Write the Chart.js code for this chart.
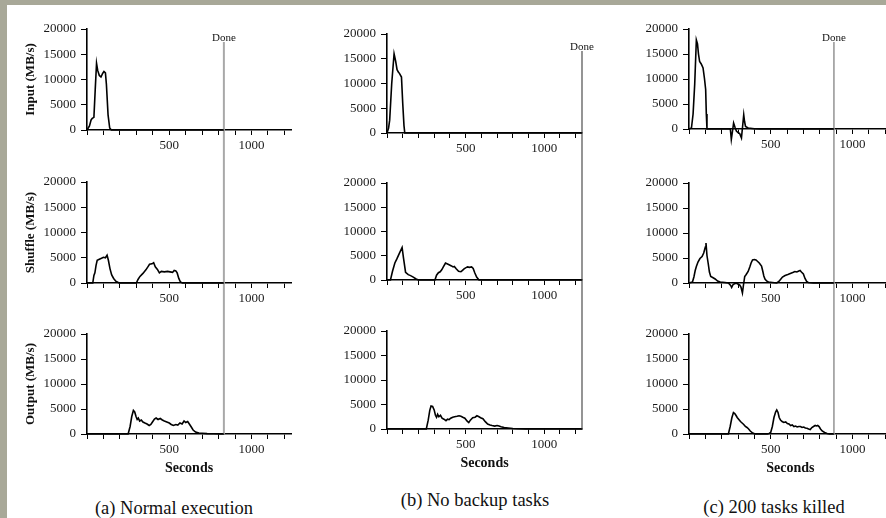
<!DOCTYPE html>
<html>
<head>
<meta charset="utf-8">
<script src="https://cdn.jsdelivr.net/npm/chart.js@4.4.0/dist/chart.umd.min.js"></script>
<style>
  html, body { margin: 0; padding: 0; }
  body { width: 886px; height: 518px; overflow: hidden; position: relative; background: #fff; }
  .frame-left { position: absolute; left: 0; top: 0; width: 7px; height: 518px; background: #a8a898; }
  .frame-top { position: absolute; left: 0; top: 0; width: 886px; height: 5px; background: #a8a898; }
  canvas { position: absolute; }
  .caption { position: absolute; font-family: "Liberation Serif", "DejaVu Serif", serif; font-size: 18.5px;
             white-space: nowrap; color: #111; transform: translate(-50%, -50%); }
</style>
</head>
<body>
<div class="frame-left"></div>
<div class="frame-top"></div>
<script>
// ---- data: [seconds, MB/s] ----
const inputA = [[0,0],[15,800],[25,2000],[32,2300],[42,2500],[50,8000],[58,13200],[65,11800],[75,10800],[85,10500],[95,11200],[103,11600],[112,11300],[118,9000],[128,3000],[138,400],[148,0],[832,0]];
const shuffleA = [[0,0],[35,0],[42,1500],[48,2000],[55,3500],[62,4500],[75,4700],[88,4900],[100,5100],[112,5000],[122,5500],[130,4500],[140,2800],[150,1600],[162,900],[175,350],[195,0],[300,0],[310,700],[322,1300],[340,1900],[358,2600],[372,3300],[380,3700],[395,3800],[405,4000],[415,3200],[428,2700],[440,2000],[452,2300],[470,2200],[490,2300],[505,2200],[520,2100],[530,2500],[540,2400],[548,2000],[558,900],[568,200],[580,0],[832,0]];
const outputA = [[0,0],[250,0],[262,1500],[272,3500],[282,4700],[290,4400],[298,3500],[305,2900],[312,3200],[320,2600],[330,2800],[340,2400],[352,2200],[365,2000],[378,1700],[388,1900],[398,2400],[410,3000],[420,3200],[432,2900],[445,3100],[458,2800],[470,2600],[485,2400],[500,2200],[512,1900],[525,1700],[540,1900],[552,1800],[565,2200],[578,2000],[590,2600],[600,2300],[612,2500],[622,2000],[632,1500],[645,800],[660,400],[680,200],[700,150],[730,80],[770,50],[810,0],[832,0]];

const inputB = [[0,0],[10,1000],[17,2600],[30,10000],[45,16000],[55,14500],[64,12800],[72,12300],[80,12000],[92,11300],[100,6000],[108,1500],[113,0],[1240,0]];
const shuffleB = [[0,0],[22,0],[35,1800],[50,3500],[62,4300],[80,5600],[96,6700],[105,4500],[118,1600],[135,1100],[150,900],[167,600],[185,200],[200,0],[305,0],[315,1000],[327,1500],[338,1700],[348,2100],[360,2800],[372,3500],[385,3300],[398,3100],[410,2900],[420,2700],[428,2800],[440,2300],[455,1800],[470,1700],[480,2000],[490,2300],[500,2500],[512,2700],[524,2600],[538,2700],[548,2400],[558,1500],[570,600],[585,0],[1240,0]];
const outputB = [[0,0],[250,0],[262,1800],[272,3800],[280,4700],[290,4600],[300,3900],[308,2800],[315,2400],[322,3000],[330,2500],[340,2800],[350,2200],[362,2000],[375,1700],[385,2000],[395,1900],[405,2200],[418,2400],[430,2500],[445,2600],[458,2700],[470,2600],[482,2400],[495,2200],[510,1600],[520,1300],[530,1800],[545,2300],[560,2400],[572,2700],[585,2500],[595,2300],[610,2100],[625,1500],[640,1000],[655,800],[668,700],[685,600],[700,700],[712,600],[725,450],[745,300],[770,200],[800,100],[830,50],[880,0],[1240,0]];

const inputC = [[0,0],[15,200],[25,3000],[35,9000],[45,17800],[52,17000],[58,15000],[65,13500],[75,13000],[86,12200],[95,10000],[102,7900],[106,3000],[110,0],[253,0],[259,-2100],[266,-500],[273,1200],[282,300],[290,-400],[300,-700],[310,-900],[321,-1800],[328,500],[335,2850],[340,1500],[346,500],[362,200],[400,50],[434,0],[887,0]];
const shuffleC = [[0,0],[21,200],[30,1200],[38,2500],[45,3300],[55,4200],[67,4900],[80,5300],[90,6000],[100,7200],[104,8000],[110,5500],[118,3800],[125,2200],[133,1300],[145,1100],[160,800],[175,400],[191,200],[220,100],[241,0],[255,-500],[261,-900],[270,-300],[281,-100],[295,-100],[302,-300],[310,-400],[318,-800],[327,-2000],[333,-500],[341,1300],[350,1700],[362,2300],[372,3200],[380,4000],[389,4600],[400,4700],[410,4600],[417,4400],[430,4000],[444,3400],[452,2300],[458,1400],[465,800],[475,400],[486,200],[510,100],[537,0],[550,300],[560,700],[572,1200],[588,1500],[605,1700],[620,1900],[635,2100],[648,2300],[660,2200],[672,2400],[680,2500],[688,2200],[700,1800],[710,900],[720,300],[730,100],[761,0],[887,0]];
const outputC = [[0,0],[241,0],[252,1500],[262,3200],[272,4300],[280,4100],[288,3700],[295,3300],[305,2900],[315,2500],[325,2200],[335,1900],[345,1500],[355,1300],[365,1000],[375,600],[390,200],[405,0],[480,0],[490,100],[500,300],[510,1500],[520,3300],[530,4400],[537,4800],[545,4300],[552,3300],[560,2800],[570,2500],[580,2300],[592,2400],[602,2100],[612,2000],[622,1700],[632,1800],[642,1500],[652,1600],[662,1400],[672,1500],[682,1500],[692,1300],[702,1400],[712,1200],[722,1150],[732,1000],[742,900],[752,1300],[762,1500],[772,1700],[780,1600],[788,1700],[796,1500],[805,1000],[815,600],[830,300],[845,100],[860,0],[887,0]];

const rowTitles = ['Input (MB/s)', 'Shuffle (MB/s)', 'Output (MB/s)'];
const captions = ['(a) Normal execution', '(b) No backup tasks', '(c) 200 tasks killed'];
const doneSeconds = [832, 1240, 887];
const xLabelTicks = [500, 1000];
const xMax = 1240;
const yMax = 20000;

const series = [
  [inputA, shuffleA, outputA],
  [inputB, shuffleB, outputB],
  [inputC, shuffleC, outputC]
];

// ---- layout (page pixels) ----
const FONT = "'Liberation Serif', 'DejaVu Serif', serif";
const rowCanvas = [[0, 160], [160, 310], [310, 480]];
const cols = [
  { left: 8,   width: 292, axisX: 87,  rightX: 291,   doneY: 42, secondsY: 468, capX: 174, capY: 508,
    doneColor: '#a8a8a8', doneWidth: 2, rows: [[29, 130], [182, 283], [334, 434]] },
  { left: 300, width: 300, axisX: 387, rightX: 582,   doneY: 51, secondsY: 463, capX: 475, capY: 500,
    doneColor: '#7a7a7a', doneWidth: 1.6, rows: [[34, 133], [183, 280], [331, 429]] },
  { left: 600, width: 300, axisX: 689, rightX: 891.6, doneY: 42, secondsY: 468, capX: 774, capY: 507,
    doneColor: '#9a9a9a', doneWidth: 1.6, rows: [[29, 129], [183, 283], [334, 434]] }
];

// vertical "Done" marker, continued across the three stacked canvases
const doneLine = {
  id: 'doneLine',
  beforeDatasetsDraw(chart, args, opts) {
    const { ctx, chartArea } = chart;
    const px = chart.scales.x.getPixelForValue(opts.value);
    const y0 = opts.row === 0 ? opts.startY : 0;
    const y1 = opts.row === 2 ? chartArea.bottom : chart.height;
    ctx.save();
    ctx.strokeStyle = opts.color;
    ctx.lineWidth = opts.width;
    ctx.beginPath();
    ctx.moveTo(px, y0);
    ctx.lineTo(px, y1);
    ctx.stroke();
    if (opts.row === 0) {
      ctx.fillStyle = '#111';
      ctx.font = '11px ' + FONT;
      ctx.textAlign = 'center';
      ctx.textBaseline = 'alphabetic';
      ctx.fillText('Done', px, opts.startY - 1);
    }
    ctx.restore();
  }
};

function makePanel(ci, ri) {
  const col = cols[ci];
  const [cTop, cBot] = rowCanvas[ri];
  const [aTop, aBot] = col.rows[ri];
  const canvas = document.createElement('canvas');
  canvas.width = col.width;
  canvas.height = cBot - cTop;
  canvas.style.left = col.left + 'px';
  canvas.style.top = cTop + 'px';
  document.body.appendChild(canvas);

  const points = series[ci][ri].map(p => ({ x: p[0], y: p[1] }));
  const tickFont = { family: FONT, size: 13 };

  new Chart(canvas, {
    type: 'line',
    data: {
      datasets: [{
        data: points,
        borderColor: '#000',
        borderWidth: 1.6,
        pointRadius: 0,
        tension: 0,
        fill: false,
        clip: false
      }]
    },
    options: {
      responsive: false,
      animation: false,
      events: [],
      layout: { padding: { left: 0, top: aTop - cTop, right: col.left + col.width - col.rightX, bottom: 0 } },
      plugins: {
        legend: { display: false },
        tooltip: { enabled: false },
        doneLine: {
          value: doneSeconds[ci], row: ri, startY: col.doneY - cTop,
          color: col.doneColor, width: col.doneWidth
        }
      },
      scales: {
        x: {
          type: 'linear',
          min: 0,
          max: xMax,
          afterFit: s => { s.height = cBot - aBot; },
          grid: { drawOnChartArea: false, drawTicks: true, tickLength: 5, color: '#000', lineWidth: 1 },
          border: { display: true, color: '#000', width: 1.6 },
          ticks: {
            stepSize: 100, autoSkip: false, includeBounds: false,
            maxRotation: 0, minRotation: 0, padding: 3,
            color: '#1a1a1a', font: tickFont,
            callback: v => xLabelTicks.includes(v) ? String(v) : ''
          },
          title: {
            display: ri === 2, text: 'Seconds', color: '#111',
            font: { family: FONT, size: 14, weight: 'bold' },
            padding: { top: 0, bottom: cBot - col.secondsY - 8.4 }
          }
        },
        y: {
          min: 0,
          max: yMax,
          afterFit: s => { s.width = col.axisX - col.left; },
          grid: { drawOnChartArea: false, drawTicks: true, tickLength: 6, color: '#000', lineWidth: 1 },
          border: { display: true, color: '#000', width: 1.6 },
          ticks: {
            stepSize: 5000, autoSkip: false, padding: 5, color: '#1a1a1a', font: tickFont,
            callback: v => String(v)
          },
          title: {
            display: ci === 0, text: rowTitles[ri], color: '#111',
            font: { family: FONT, size: 13, weight: 'bold' },
            padding: { top: 15, bottom: 0 }
          }
        }
      }
    },
    plugins: [doneLine]
  });
}

cols.forEach((col, ci) => {
  for (let ri = 0; ri < 3; ri++) makePanel(ci, ri);
  const cap = document.createElement('div');
  cap.className = 'caption';
  cap.textContent = captions[ci];
  cap.style.left = col.capX + 'px';
  cap.style.top = col.capY + 'px';
  document.body.appendChild(cap);
});
</script>
</body>
</html>
